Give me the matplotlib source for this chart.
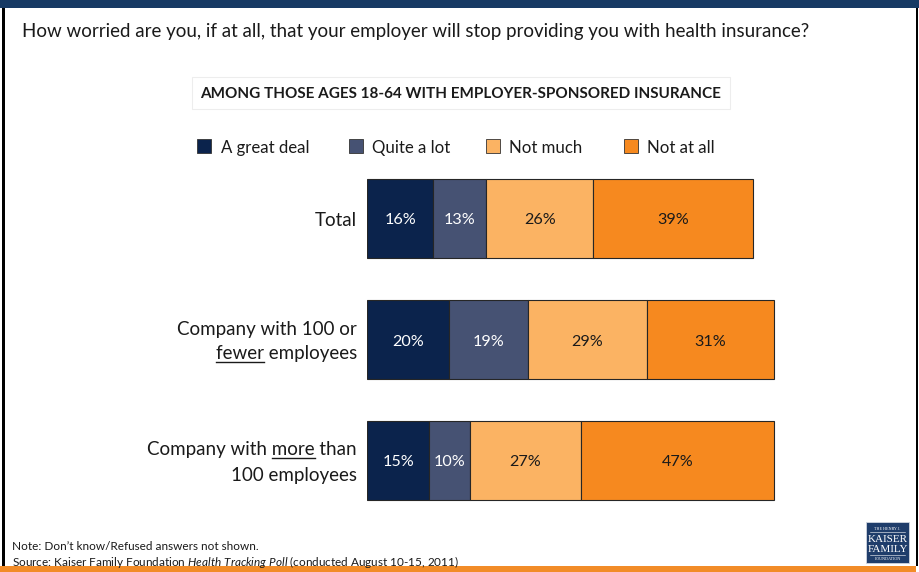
import matplotlib
matplotlib.use("Agg")
import matplotlib.pyplot as plt
from matplotlib.patches import Rectangle
from matplotlib.lines import Line2D

# ---- data ---------------------------------------------------------------
categories = ["Total",
              "Company with 100 or\nfewer employees",
              "Company with more than\n100 employees"]
underlined = {1: "fewer", 2: "more"}          # word underlined per category
series_names = ["A great deal", "Quite a lot", "Not much", "Not at all"]
great_deal = [16, 20, 15]
quite_a_lot = [13, 19, 10]
not_much = [26, 29, 27]
not_at_all = [39, 31, 47]

title = "How worried are you, if at all, that your employer will stop providing you with health insurance?"
subtitle = "AMONG THOSE AGES 18-64 WITH EMPLOYER-SPONSORED INSURANCE"
note = "Note: Don\u2019t know/Refused answers not shown."
source = r"Source: Kaiser Family Foundation $\mathit{Health\ Tracking\ Poll}$ (conducted August 10-15, 2011)"

# ---- style --------------------------------------------------------------
colors = ["#0B234C", "#465273", "#FBB363", "#F6891F"]
text_on_bar = ["white", "white", "#1A1A1A", "#1A1A1A"]
FONT = "Lato"
plt.rcParams["font.family"] = [FONT, "DejaVu Sans"]
plt.rcParams["mathtext.fontset"] = "custom"
plt.rcParams["mathtext.rm"] = FONT
plt.rcParams["mathtext.it"] = FONT + ":italic"

W, H, DPI = 919, 572, 100
fig = plt.figure(figsize=(W / DPI, H / DPI), dpi=DPI)
fig.patch.set_facecolor("white")
renderer = fig.canvas.get_renderer()
DY = 2  # nudge text down so its visual centre sits on the anchor


def fx(x):
    return x / W


def fy(y):
    return 1 - y / H


def text_px(x, y, s, **kw):
    return fig.text(fx(x), fy(y), s, **kw)


def width_px(t):
    return t.get_window_extent(renderer).width


def fit(t, target):
    t.set_fontsize(t.get_fontsize() * target / width_px(t))
    return t.get_fontsize()


def rect_px(x0, y0, x1, y1, **kw):
    r = Rectangle((fx(x0), fy(y1)), (x1 - x0) / W, (y1 - y0) / H,
                  transform=fig.transFigure, **kw)
    fig.add_artist(r)
    return r


# ---- slide frame ----------------------------------------------------------
rect_px(0, 0, W, 8, facecolor="#173A64", edgecolor="none")
rect_px(2, 8, 4.5, 566, facecolor="black", edgecolor="none")
rect_px(915.5, 8, 918, 566, facecolor="black", edgecolor="none")
rect_px(0, 566, 916, 572, facecolor="#F28C28", edgecolor="none")

# ---- headings ---------------------------------------------------------------
t = text_px(22, 30 + DY, title, ha="left", va="center", fontsize=14, color="#1A1A1A")
fit(t, 790)

rect_px(192, 77, 730, 109, facecolor="white", edgecolor="#EDEDED", linewidth=0.8)
t = text_px(200, 93 + 1, subtitle, ha="left", va="center", fontsize=10,
            fontweight="bold", color="#1A1A1A")
fit(t, 519)

# ---- legend ---------------------------------------------------------------
sq_x = [197, 349, 486, 624]
lab_x = [221, 372, 509, 647]
legend_texts = []
for sx, lx, name, c in zip(sq_x, lab_x, series_names, colors):
    rect_px(sx, 139, sx + 14, 153, facecolor=c, edgecolor="#333333", linewidth=0.6)
    legend_texts.append(text_px(lx, 146 + DY, name, ha="left", va="center",
                                fontsize=12, color="#1A1A1A"))
size = fit(legend_texts[0], 88)
for t in legend_texts:
    t.set_fontsize(size)

# ---- bars -------------------------------------------------------------------
ax_left, ax_right = 367.3, 778.1
ax_top, ax_bottom = 158, 521
row_px = (ax_bottom - ax_top) / len(categories)
ax = fig.add_axes([fx(ax_left), fy(ax_bottom), (ax_right - ax_left) / W,
                   (ax_bottom - ax_top) / H])
ax.set_xlim(0, 100)
ax.set_ylim(len(categories) - 0.5, -0.5)
ax.axis("off")

series = [great_deal, quite_a_lot, not_much, not_at_all]
ypos = list(range(len(categories)))
left = [0] * len(categories)
value_texts = []
for vals, c, tc in zip(series, colors, text_on_bar):
    ax.barh(ypos, vals, left=left, height=0.645, color=c,
            edgecolor="#262626", linewidth=0.8)
    for i, v in enumerate(vals):
        value_texts.append(ax.text(left[i] + v / 2, i + DY / row_px, f"{v}%",
                                   ha="center", va="center", fontsize=11,
                                   color=tc))
    left = [l + v for l, v in zip(left, vals)]
size = fit(value_texts[0], 31.5)
for t in value_texts:
    t.set_fontsize(size)

# ---- category labels ----------------------------------------------------------
label_right = 357
line_gap = 25
cat_texts = []
for i, cat in enumerate(categories):
    center = ax_top + row_px * (i + 0.5)
    lines = cat.split("\n")
    n = len(lines)
    for k, line in enumerate(lines):
        y = center + (k - (n - 1) / 2) * line_gap
        cat_texts.append((i, line, y, text_px(label_right, y + DY, line, ha="right",
                                               va="center", fontsize=14,
                                               color="#1A1A1A")))
ref = [t for _, s, _, t in cat_texts if s.startswith("Company with more")][0]
size = fit(ref, 210)
for _, _, _, t in cat_texts:
    t.set_fontsize(size)


def measure(s):
    tmp = text_px(0, 0, s, fontsize=size)
    w = width_px(tmp)
    tmp.remove()
    return w


for i, line, y, t in cat_texts:
    word = underlined.get(i)
    if word and word in line.split():
        full = width_px(t)
        start_txt = line[: line.index(word) + len(word)]
        end = measure(start_txt)
        wlen = measure(word)
        x0 = label_right - full + end - wlen
        x1 = label_right - full + end
        uy = y + 10
        fig.add_artist(Line2D([fx(x0), fx(x1)], [fy(uy), fy(uy)],
                              transform=fig.transFigure, color="#1A1A1A",
                              linewidth=1.0))

# ---- footnotes ---------------------------------------------------------------
t = text_px(12, 545 + 1, note, ha="left", va="center", fontsize=8, color="#1A1A1A")
size = fit(t, 245)
t2 = text_px(12, 561 + 1, source, ha="left", va="center", fontsize=size, color="#1A1A1A")

# ---- logo -------------------------------------------------------------------
rect_px(866, 522, 909, 563, facecolor="#1F3D6B", edgecolor="#D0D6E0", linewidth=0.6)
serif = ["Liberation Serif", "DejaVu Serif"]
text_px(887.5, 528.5, "THE HENRY J.", ha="center", va="center", fontsize=3,
        color="white", family=serif)
fig.add_artist(Line2D([fx(870), fx(905)], [fy(532), fy(532)],
                      transform=fig.transFigure, color="white", linewidth=0.4))
text_px(887.5, 539.5, "KAISER", ha="center", va="center", fontsize=8,
        color="white", family=serif)
text_px(887.5, 549.5, "FAMILY", ha="center", va="center", fontsize=8,
        color="white", family=serif)
fig.add_artist(Line2D([fx(870), fx(905)], [fy(555), fy(555)],
                      transform=fig.transFigure, color="white", linewidth=0.4))
text_px(887.5, 558.5, "FOUNDATION", ha="center", va="center", fontsize=3,
        color="white", family=serif)

fig.savefig("out.png", dpi=DPI, facecolor="white")
